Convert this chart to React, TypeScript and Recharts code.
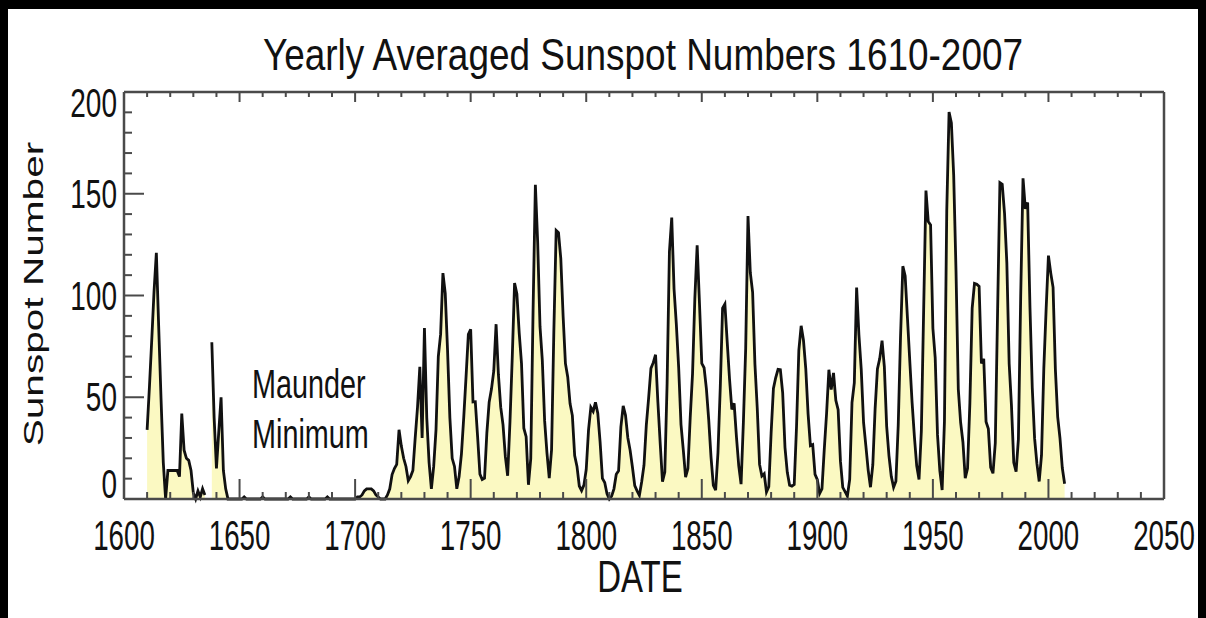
import { ComposedChart, Area, XAxis, YAxis } from "recharts";

// yearly mean sunspot numbers, one entry per year starting at 1610
// (null marks the two missing years in the 1630s)
const FIRST_YEAR = 1610;

const ssn1600s: (number | null)[] = [
  34, 55, 78, 102, 121, 85, 50, 18, 0, 14,
  14, 14, 14, 14, 11, 42, 24, 20, 19, 14,
  3, 0, 4, 1, 5, 2, null, null, 77, 40,
  15, 33, 50, 14, 5, 0, 0, 0, 0, 0,
  0, 0, 1, 0, 0, 0, 0, 0, 0, 0,
  1, 0, 0, 0, 0, 0, 0, 0, 0, 0,
  0, 0, 1, 0, 0, 0, 0, 0, 0, 0,
  1, 0, 0, 0, 0, 0, 0, 0, 1, 0,
  0, 0, 0, 0, 0, 0, 0, 0, 0, 0,
];

const ssn1700s: (number | null)[] = [
  0, 1, 1, 2, 4, 5, 5, 5, 4, 2,
  1, 0, 0, 0, 2, 5, 12, 15, 17, 34,
  26, 20, 16, 9, 11, 14, 30, 45, 65, 30,
  84, 40, 18, 5, 16, 34, 70, 81, 111, 101,
  73, 40, 20, 16, 5, 11, 22, 40, 60, 80.9,
  83.4, 47.7, 47.8, 30.7, 12.2, 9.6, 10.2, 32.4, 47.6, 54.0,
  62.9, 85.9, 61.2, 45.1, 36.4, 20.9, 11.4, 37.8, 69.8, 106.1,
  100.8, 81.6, 66.5, 34.8, 30.6, 7.0, 19.8, 92.5, 154.4, 125.9,
  84.8, 68.1, 38.5, 22.8, 10.2, 24.1, 82.9, 132.0, 130.9, 118.1,
  89.9, 66.6, 60.0, 46.9, 41.0, 21.3, 16.0, 6.4, 4.1, 6.8,
];

const ssn1800s: (number | null)[] = [
  14.5, 34.0, 45.0, 43.1, 47.5, 42.2, 28.1, 10.1, 8.1, 2.5,
  0.0, 1.4, 5.0, 12.2, 13.9, 35.4, 45.8, 41.1, 30.1, 23.9,
  15.6, 6.6, 4.0, 1.8, 8.5, 16.6, 36.3, 49.6, 64.2, 67.0,
  70.9, 47.8, 27.5, 8.5, 13.2, 56.9, 121.5, 138.3, 103.2, 85.7,
  64.6, 36.7, 24.2, 10.7, 15.0, 40.1, 61.5, 98.5, 124.7, 96.3,
  66.6, 64.5, 54.1, 39.0, 20.6, 6.7, 4.3, 22.7, 54.8, 93.8,
  95.8, 77.2, 59.1, 44.0, 47.0, 30.5, 16.3, 7.3, 37.6, 74.0,
  139.0, 111.2, 101.6, 66.2, 44.7, 17.0, 11.3, 12.4, 3.4, 6.0,
  32.3, 54.3, 59.7, 63.7, 63.5, 52.2, 25.4, 13.1, 6.8, 6.3,
  7.1, 35.6, 73.0, 85.1, 78.0, 64.0, 41.8, 26.2, 26.7, 12.1,
];

const ssn1900s: (number | null)[] = [
  9.5, 2.7, 5.0, 24.4, 42.0, 63.5, 53.8, 62.0, 48.5, 43.9,
  18.6, 5.7, 3.6, 1.4, 9.6, 47.4, 57.1, 103.9, 80.6, 63.6,
  37.6, 26.1, 14.2, 5.8, 16.7, 44.3, 63.9, 69.0, 77.8, 64.9,
  35.7, 21.2, 11.1, 5.7, 8.7, 36.1, 79.7, 114.4, 109.6, 88.8,
  67.8, 47.5, 30.6, 16.3, 9.6, 33.2, 92.6, 151.6, 136.3, 134.7,
  83.9, 69.4, 31.5, 13.9, 4.4, 38.0, 141.7, 190.2, 184.8, 159.0,
  112.3, 53.9, 37.6, 27.9, 10.2, 15.1, 47.0, 93.8, 105.9, 105.5,
  104.5, 66.6, 68.9, 38.0, 34.5, 15.5, 12.6, 27.5, 92.5, 155.4,
  154.6, 140.4, 115.9, 66.6, 45.9, 17.9, 13.4, 29.4, 100.2, 157.6,
  142.6, 145.7, 94.3, 54.6, 29.9, 17.5, 8.6, 21.5, 64.3, 93.3,
];

const ssn2000s: (number | null)[] = [119.6, 111.0, 104.0, 63.7, 40.4, 29.8, 15.2, 7.5];

const xTicks = [
  1600, 1610, 1620, 1630, 1640, 1650, 1660, 1670, 1680, 1690,
  1700, 1710, 1720, 1730, 1740, 1750, 1760, 1770, 1780, 1790,
  1800, 1810, 1820, 1830, 1840, 1850, 1860, 1870, 1880, 1890,
  1900, 1910, 1920, 1930, 1940, 1950, 1960, 1970, 1980, 1990,
  2000, 2010, 2020, 2030, 2040, 2050,
];
const yTicks = [0, 10, 20, 30, 40, 50, 60, 70, 80, 90, 100, 110, 120, 130, 140, 150, 160, 170, 180, 190, 200];

const TITLE = "Yearly Averaged Sunspot Numbers 1610-2007";
const X_LABEL = "DATE";
const Y_LABEL = "Sunspot Number";

const series = [...ssn1600s, ...ssn1700s, ...ssn1800s, ...ssn1900s, ...ssn2000s];
const data = series.map((ssn, i) => ({ year: FIRST_YEAR + i, ssn }));

const W = 1206;
const H = 618;
const AXIS = "#4a4a4a";
const INK = "#111";
const FILL = "#fbf9c2";
const FONT = "'Liberation Sans', Arial, Helvetica, sans-serif";

// tick lengths (major, minor) per side, all pointing into the plot
const TICK_LEN: Record<string, [number, number]> = {
  bottom: [20, 7],
  top: [10, 5],
  left: [20, 8],
  right: [20, 9],
};

// labels only on the left and bottom majors
function FrameTick(props: any) {
  const { x, y, payload, side } = props;
  const v: number = payload.value;
  const major = v % 50 === 0;
  const len = TICK_LEN[side][major ? 0 : 1];
  let l = { x1: x, y1: y, x2: x, y2: y };
  if (side === "bottom") l = { ...l, y2: y - len };
  if (side === "top") l = { ...l, y2: y + len };
  if (side === "left") l = { ...l, x2: x + len };
  if (side === "right") l = { ...l, x2: x - len };

  let label = null;
  if (major && side === "bottom") {
    label = (
      <text
        transform={`translate(${x},${y + 51}) scale(0.66,1)`}
        textAnchor="middle"
        fontSize={42}
        fontFamily={FONT}
        fill={INK}
      >
        {v}
      </text>
    );
  }
  if (major && side === "left") {
    // the end labels are pulled inside the frame
    const dy = v === 200 ? 25 : v === 0 ? -1 : 14;
    label = (
      <text
        transform={`translate(${x - 7},${y + dy}) scale(0.7,1)`}
        textAnchor="end"
        fontSize={40}
        fontFamily={FONT}
        fill={INK}
      >
        {v}
      </text>
    );
  }
  return (
    <g>
      <line {...l} stroke={AXIS} strokeWidth={2} />
      {label}
    </g>
  );
}

const frameLine = { stroke: AXIS, strokeWidth: 2.5 };

export default function App() {
  return (
    <div style={{ position: "fixed", left: 0, top: 0, width: W, height: H, background: "#000" }}>
      <div style={{ position: "absolute", left: 8, top: 9, width: W - 16, height: H - 9, background: "#fff" }} />
      <div style={{ position: "absolute", left: 0, top: 0 }}>
        <ComposedChart
          width={W}
          height={H}
          data={data}
          margin={{ top: 91, left: 123, right: W - 1165, bottom: H - 500 }}
        >
          <XAxis
            dataKey="year"
            type="number"
            domain={[1600, 2050]}
            ticks={xTicks}
            interval={0}
            height={1}
            tickSize={0}
            tickMargin={0}
            tickLine={false}
            axisLine={frameLine}
            tick={<FrameTick side="bottom" />}
          />
          <XAxis
            xAxisId="top"
            orientation="top"
            dataKey="year"
            type="number"
            domain={[1600, 2050]}
            ticks={xTicks}
            interval={0}
            height={1}
            tickSize={0}
            tickMargin={0}
            tickLine={false}
            axisLine={frameLine}
            tick={<FrameTick side="top" />}
          />
          <YAxis
            type="number"
            domain={[0, 200]}
            ticks={yTicks}
            interval={0}
            width={1}
            tickSize={0}
            tickMargin={0}
            tickLine={false}
            axisLine={frameLine}
            tick={<FrameTick side="left" />}
          />
          <YAxis
            yAxisId="right"
            orientation="right"
            type="number"
            domain={[0, 200]}
            ticks={yTicks}
            interval={0}
            width={1}
            tickSize={0}
            tickMargin={0}
            tickLine={false}
            axisLine={frameLine}
            tick={<FrameTick side="right" />}
          />
          <Area
            dataKey="ssn"
            type="linear"
            stroke={INK}
            strokeWidth={2.8}
            fill={FILL}
            fillOpacity={1}
            connectNulls={false}
            dot={false}
            activeDot={false}
            isAnimationActive={false}
          />
        </ComposedChart>
      </div>
      <svg
        width={W}
        height={H}
        style={{ position: "absolute", left: 0, top: 0, pointerEvents: "none" }}
        fontFamily={FONT}
        fill={INK}
      >
        <text transform="translate(643,70) scale(0.84,1)" textAnchor="middle" fontSize={44}>
          {TITLE}
        </text>
        <text transform="translate(640,592) scale(0.75,1)" textAnchor="middle" fontSize={44}>
          {X_LABEL}
        </text>
        <text transform="translate(43,294) rotate(-90) scale(1.45,1)" textAnchor="middle" fontSize={28}>
          {Y_LABEL}
        </text>
        <text transform="translate(252,398) scale(0.72,1)" fontSize={40}>
          Maunder
        </text>
        <text transform="translate(252,448) scale(0.72,1)" fontSize={40}>
          Minimum
        </text>
      </svg>
    </div>
  );
}
